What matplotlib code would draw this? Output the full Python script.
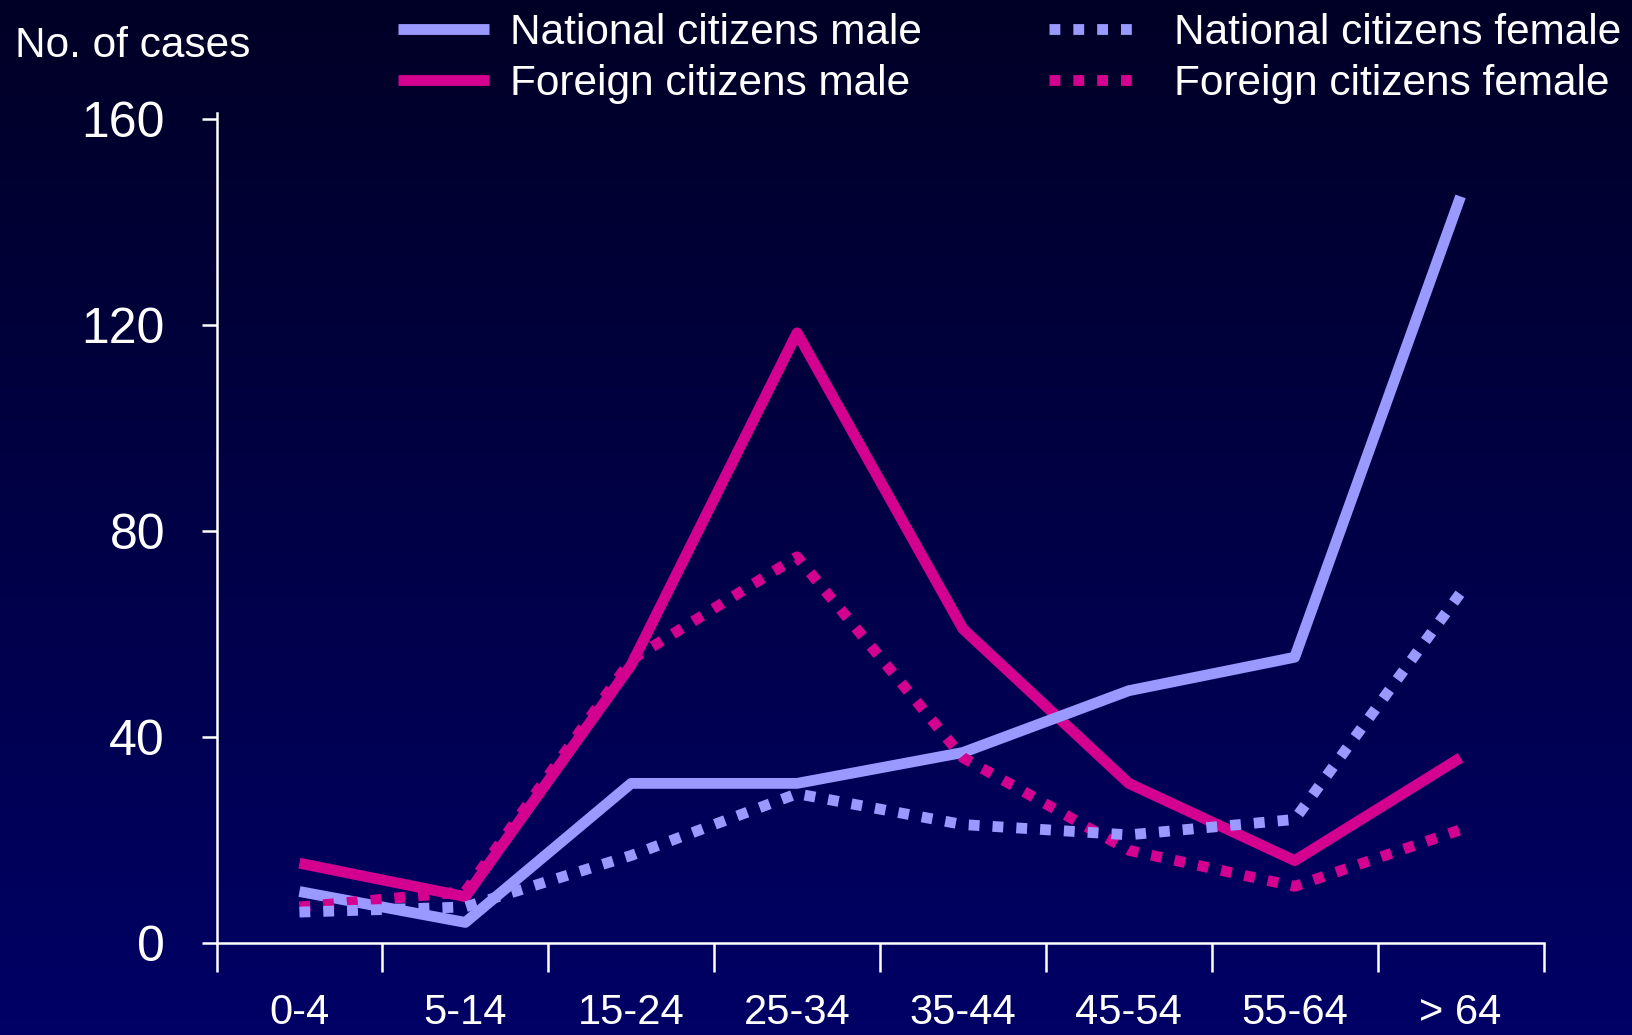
import numpy as np
import matplotlib
matplotlib.use('Agg')
import matplotlib.pyplot as plt

plt.rcParams['font.family'] = ['Liberation Sans', 'DejaVu Sans']

ages = ['0-4', '5-14', '15-24', '25-34', '35-44', '45-54', '55-64', '> 64']
nat_male = [10, 4, 31, 31, 37, 49, 55.5, 145]
for_male = [15.5, 9, 54, 118.5, 61, 31, 16, 36]
nat_female = [6, 7, 17, 29, 23, 21, 24, 68]
for_female = [7, 10, 55, 75, 36, 18, 11, 22]

blue = '#9999ff'
pink = '#d4008f'
lw = 7.8
dots = (0, (1.0, 1.2))

fig = plt.figure(figsize=(16.32, 10.35), dpi=100)

# vertical gradient background
bg = fig.add_axes([0, 0, 1, 1], zorder=-10)
grad = np.linspace(0, 1, 256).reshape(-1, 1)
cmap = matplotlib.colors.LinearSegmentedColormap.from_list('bg', ['#000026', '#000066'])
bg.imshow(grad, aspect='auto', cmap=cmap, extent=[0, 1, 0, 1], origin='upper')
bg.axis('off')

ax = fig.add_axes([216.5/1632, 92/1035, 1327/1632, 830/1035])
ax.patch.set_alpha(0)

x = np.arange(len(ages))
h_fm, = ax.plot(x, for_male, color=pink, lw=lw, solid_joinstyle='round', solid_capstyle='butt',
                label='Foreign citizens male')
h_nm, = ax.plot(x, nat_male, color=blue, lw=lw, solid_joinstyle='round', solid_capstyle='butt',
                label='National citizens male')
h_ff, = ax.plot(x, for_female, color=pink, lw=lw, ls=dots, dash_capstyle='butt',
                label='Foreign citizens female')
h_nf, = ax.plot(x, nat_female, color=blue, lw=lw, ls=dots, dash_capstyle='butt',
                label='National citizens female')

ax.set_xlim(-0.5, len(ages) - 0.5)
ax.set_ylim(0, 161.2)

for s in ['top', 'right']:
    ax.spines[s].set_visible(False)
for s in ['left', 'bottom']:
    ax.spines[s].set_color('white')
    ax.spines[s].set_linewidth(1.8)

ax.set_yticks([0, 40, 80, 120, 160])
ax.tick_params(axis='y', colors='white', direction='out', length=11, width=1.8,
               labelsize=36, pad=26)
ax.set_xticks(np.arange(-0.5, len(ages)), [])
ax.set_xticks(x, ages, minor=True)
ax.tick_params(axis='x', which='major', colors='white', direction='out', length=21, width=1.8)
ax.tick_params(axis='x', which='minor', colors='white', length=0, labelsize=30, pad=36)

fig.text(15/1632, 1 - 57/1035, 'No. of cases', color='white', fontsize=30.5,
         ha='left', va='baseline')

# two legend columns, placed separately
leg_m = fig.legend(handles=[h_nm, h_fm], loc='upper left',
                   bbox_to_anchor=(398/1632, 1 - 13/1035), frameon=False, fontsize=30.5,
                   borderaxespad=0, borderpad=0, handlelength=2.15, handletextpad=0.5,
                   labelspacing=0.25, labelcolor='white')
leg_f = fig.legend(handles=[h_nf, h_ff], loc='upper left',
                   bbox_to_anchor=(1049/1632, 1 - 13/1035), frameon=False, fontsize=30.5,
                   borderaxespad=0, borderpad=0, handlelength=2.0, handletextpad=0.95,
                   labelspacing=0.25, labelcolor='white')

fig.savefig('out.png', dpi=100)
